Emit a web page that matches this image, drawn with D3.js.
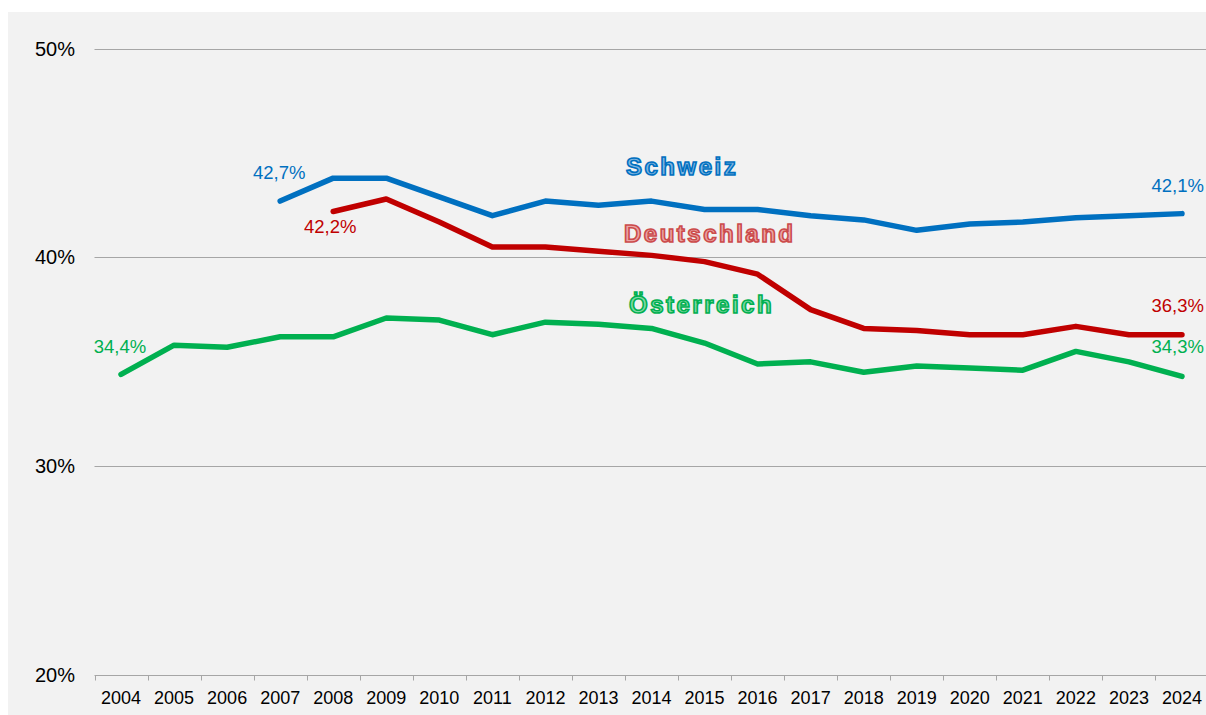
<!DOCTYPE html>
<html>
<head>
<meta charset="utf-8">
<script src="https://cdn.jsdelivr.net/npm/d3@7"></script>
<style>
  body { margin: 0; background: #fff; }
  text { font-family: Arial, "Liberation Sans", sans-serif; }
</style>
</head>
<body>
<div id="chart"></div>
<script>
// years on the category axis
const years = d3.range(2004, 2025).map(String);
// y-axis ticks (percent)
const yTicks = [20, 30, 40, 50];
// series values (null = no data)
const schweiz = [null, null, null, 42.7, 43.8, 43.8, 42.9, 42.0, 42.7, 42.5, 42.7,
                 42.3, 42.3, 42.0, 41.8, 41.3, 41.6, 41.7, 41.9, 42.0, 42.1];
const deutschland = [null, null, null, null, 42.2, 42.8, 41.7, 40.5, 40.5, 40.3, 40.1,
                     39.8, 39.2, 37.5, 36.6, 36.5, 36.3, 36.3, 36.7, 36.3, 36.3];
const oesterreich = [34.4, 35.8, 35.7, 36.2, 36.2, 37.1, 37.0, 36.3, 36.9, 36.8, 36.6,
                     35.9, 34.9, 35.0, 34.5, 34.8, 34.7, 34.6, 35.5, 35.0, 34.3];

const width = 1206, height = 715;

const svg = d3.select('#chart').append('svg')
  .attr('width', width)
  .attr('height', height);

// grey chart area
svg.append('rect')
  .attr('x', 8).attr('y', 12)
  .attr('width', width - 8).attr('height', height - 12)
  .attr('fill', '#f2f2f2');

const x = d3.scaleBand().domain(years).range([94.5, 1208.5]);
const y = d3.scaleLinear().domain([20, 50]).range([675, 48.7]);
const fmt = v => d3.format('.1f')(v).replace('.', ',') + '%';

// gridlines
svg.append('g')
  .selectAll('line')
  .data(yTicks)
  .enter()
  .append('line')
  .attr('x1', 94.5).attr('x2', width)
  .attr('y1', d => Math.round(y(d)) + 0.5)
  .attr('y2', d => Math.round(y(d)) + 0.5)
  .attr('stroke', '#a6a6a6')
  .attr('stroke-width', 1);

// y labels
svg.append('g')
  .selectAll('text')
  .data(yTicks)
  .enter()
  .append('text')
  .attr('x', 75)
  .attr('y', d => y(d) + 7)
  .attr('text-anchor', 'end')
  .style('font-size', '20px')
  .style('fill', '#000')
  .text(d => d + '%');

// x axis ticks at band boundaries
const xAxis = svg.append('g').attr('transform', `translate(0,${Math.round(y(20)) + 0.5})`);
xAxis.selectAll('line')
  .data(years.concat(['end']))
  .enter()
  .append('line')
  .attr('x1', (d, i) => Math.round(94.5 + i * x.bandwidth()) + 0.5)
  .attr('x2', (d, i) => Math.round(94.5 + i * x.bandwidth()) + 0.5)
  .attr('y1', 0).attr('y2', 5)
  .attr('stroke', '#a6a6a6');
xAxis.selectAll('text')
  .data(years)
  .enter()
  .append('text')
  .attr('x', d => x(d) + x.bandwidth() / 2)
  .attr('y', 28)
  .attr('text-anchor', 'middle')
  .style('font-size', '18px')
  .style('fill', '#000')
  .text(d => d);

const series = [
  { name: 'Schweiz', values: schweiz, color: '#0070C0' },
  { name: 'Deutschland', values: deutschland, color: '#C00000' },
  { name: 'Österreich', values: oesterreich, color: '#00B050' }
];

const line = d3.line()
  .defined(d => d.v != null)
  .x(d => x(d.year) + x.bandwidth() / 2)
  .y(d => y(d.v));

series.forEach(s => {
  const pts = years.map((yr, i) => ({ year: yr, v: s.values[i] }));
  svg.append('path')
    .datum(pts)
    .attr('d', line)
    .attr('fill', 'none')
    .attr('stroke', s.color)
    .attr('stroke-width', 5.5)
    .attr('stroke-linejoin', 'round')
    .attr('stroke-linecap', 'round');
});

// value labels at first / last points (last ones kept inside the right edge)
const valueLabels = [
  { s: 0, i: 3, dx: -1, dy: -22, anchor: 'middle' },
  { s: 0, i: 20, dx: 22, dy: -22, anchor: 'end' },
  { s: 1, i: 4, dx: -3, dy: 21, anchor: 'middle' },
  { s: 1, i: 20, dx: 22, dy: -23, anchor: 'end' },
  { s: 2, i: 0, dx: -1, dy: -21, anchor: 'middle' },
  { s: 2, i: 20, dx: 22, dy: -23, anchor: 'end' }
];
svg.append('g')
  .selectAll('text')
  .data(valueLabels)
  .enter()
  .append('text')
  .attr('x', d => x(years[d.i]) + x.bandwidth() / 2 + d.dx)
  .attr('y', d => y(series[d.s].values[d.i]) + d.dy)
  .attr('text-anchor', d => d.anchor)
  .style('font-size', '18.5px')
  .style('fill', d => series[d.s].color)
  .text(d => fmt(series[d.s].values[d.i]));

// series names with outline effect
const names = [
  { text: 'Schweiz', x: 626, y: 175, stroke: '#0070C0', fill: '#7fb6e2' },
  { text: 'Deutschland', x: 624, y: 241.5, stroke: '#cc4b4b', fill: '#eaa6a6' },
  { text: 'Österreich', x: 629, y: 312.5, stroke: '#00B050', fill: '#7fd9a6' }
];
svg.append('g')
  .selectAll('text')
  .data(names)
  .enter()
  .append('text')
  .attr('x', d => d.x)
  .attr('y', d => d.y)
  .style('font-size', '24px')
  .style('font-weight', 'bold')
  .style('letter-spacing', '2.5px')
  .style('fill', d => d.fill)
  .style('stroke', d => d.stroke)
  .style('stroke-width', 1.6)
  .text(d => d.text);
</script>
</body>
</html>
